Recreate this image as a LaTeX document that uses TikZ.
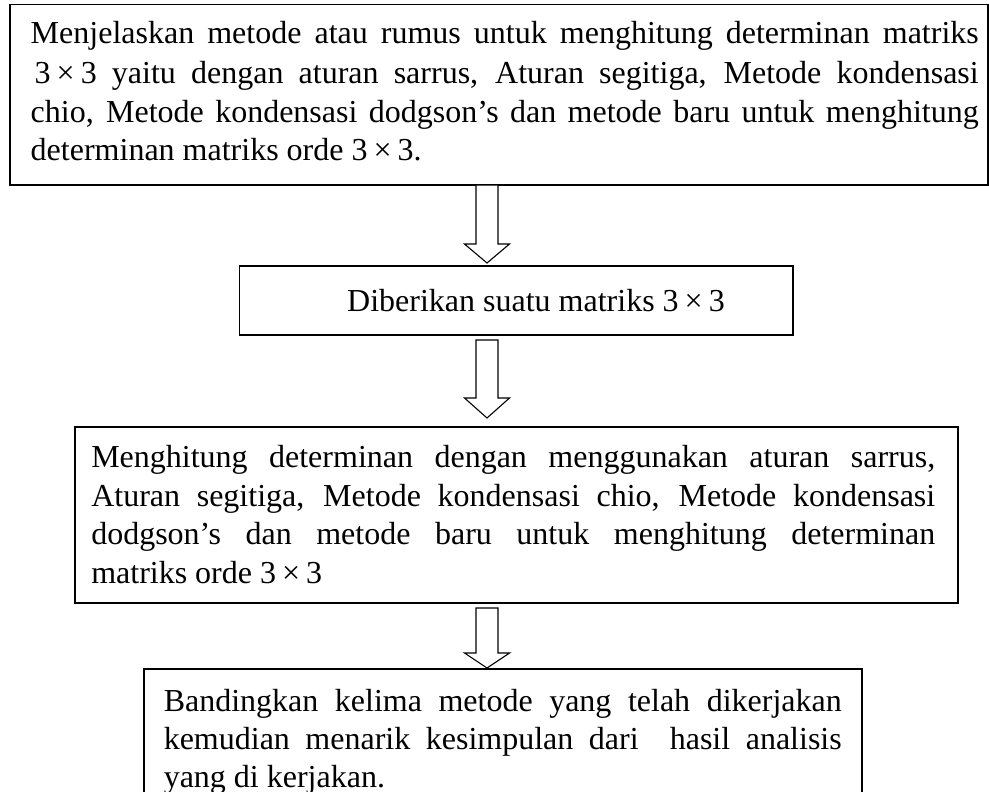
\documentclass[tikz,border=0pt]{standalone}
\usepackage{fontspec}
\setmainfont{Liberation Serif}
\usetikzlibrary{calc}
\newcommand\fs{\fontsize{32}{38.5}\selectfont}
\newcommand\tx{3\hspace{6pt}×\hspace{6pt}3}
\tikzset{
  box/.style={draw, line width=1.5pt, rectangle, anchor=north west, inner sep=0pt, font=\fs},
  arrowshape/.style={draw, fill=white, line width=1.1pt, line join=miter},
}
\newcommand\blockarrow[3]{%
  \draw[arrowshape] let \p1=(#1), \p2=(#2) in
    (\x1-11pt,\y1) -- (\x1-11pt,\y2+#3) -- (\x1-22.5pt,\y2+#3) -- (\x2,\y2)
    -- (\x1+22.5pt,\y2+#3) -- (\x1+11pt,\y2+#3) -- (\x1+11pt,\y1) -- cycle;}
\begin{document}
\begin{tikzpicture}[x=1pt,y=1pt]
\useasboundingbox (0,0) rectangle (989,-792);
\clip (0,0) rectangle (989,-792);
\fill[white] (0,0) rectangle (989,-792);

\node[box, minimum width=978pt, minimum height=180pt] (b1) at (9,-4)
 {\hspace*{12pt}\parbox{948pt}{\fs Menjelaskan metode atau rumus untuk menghitung determinan matriks\vspace{2pt}\linebreak
 \hspace*{4pt}\tx{} yaitu dengan aturan sarrus, Aturan segitiga, Metode kondensasi\linebreak
 chio, Metode kondensasi dodgson’s dan metode baru untuk menghitung\linebreak
 determinan matriks orde \tx.\par\vspace{7pt}}};

\node[box, minimum width=553.5pt, minimum height=69pt] (b2) at (238.5,-265)
 {\hspace*{40pt}Diberikan suatu matriks \tx};

\node[box, minimum width=883pt, minimum height=176pt] (b3) at (74,-426)
 {\hspace*{-6pt}\parbox{844pt}{\fs Menghitung determinan dengan menggunakan aturan sarrus,\linebreak
 Aturan segitiga, Metode kondensasi chio, Metode kondensasi\linebreak
 dodgson’s dan metode baru untuk menghitung determinan\linebreak
 matriks orde \tx}};

\node[box, minimum width=718pt, minimum height=146pt] (b4) at (143,-668)
 {\parbox{678pt}{\fontsize{32}{38}\selectfont Bandingkan kelima metode yang telah dikerjakan\linebreak
 kemudian menarik kesimpulan dari\ \ hasil analisis\linebreak
 yang di kerjakan.}};

\coordinate (a1s) at (487,-185);
\coordinate (a1e) at (487,-263);
\coordinate (a2s) at (487,-340);
\coordinate (a2e) at (487,-418);
\coordinate (a3s) at (487,-608);
\coordinate (a3e) at (487,-668);
\blockarrow{a1s}{a1e}{19pt}
\blockarrow{a2s}{a2e}{20pt}
\blockarrow{a3s}{a3e}{15pt}
\end{tikzpicture}
\end{document}
